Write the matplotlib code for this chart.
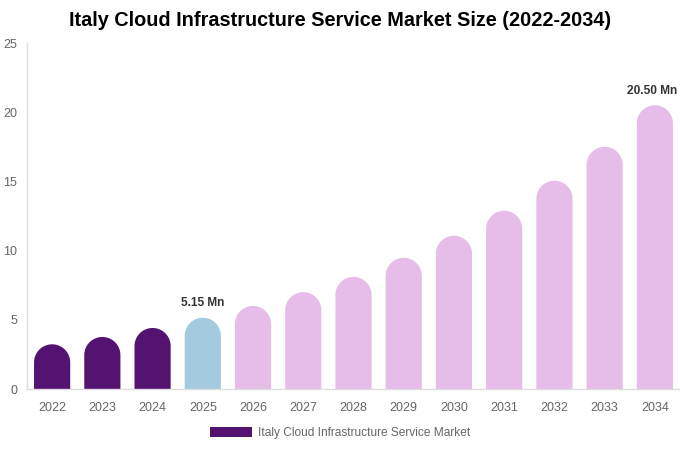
import matplotlib
matplotlib.use("Agg")
import matplotlib.pyplot as plt
import numpy as np
from matplotlib.patches import Patch, PathPatch
from matplotlib.path import Path

plt.rcParams['font.family'] = ['Liberation Sans', 'DejaVu Sans']

years = ["2022", "2023", "2024", "2025", "2026", "2027", "2028", "2029",
         "2030", "2031", "2032", "2033", "2034"]
values = [3.23, 3.76, 4.41, 5.15, 6.0, 7.0, 8.1, 9.48, 11.07, 12.88, 15.05, 17.5, 20.5]
labels = {3: "5.15 Mn", 12: "20.50 Mn"}
yticks = [0, 5, 10, 15, 20, 25]

c_hist = "#541370"
c_now = "#a3cadf"
c_fore = "#e6bce9"
colors = [c_hist] * 3 + [c_now] + [c_fore] * 9

W, H = 680, 450
fig = plt.figure(figsize=(W / 100, H / 100), dpi=100)
ax = fig.add_axes([27 / W, (H - 389) / H, 653 / W, 346 / H])
ax.set_xlim(-0.5, len(years) - 0.5)
ax.set_ylim(0, 25)

bw = 0.72
px_per_x = 653 / len(years)
px_per_y = 346 / 25
ry = (bw / 2 * px_per_x) / px_per_y
rx = bw / 2

xs = list(range(len(years)))
theta = np.linspace(0, np.pi, 60)
for x, v, c in zip(xs, values, colors):
    cy = v - ry
    arc = np.column_stack([x + rx * np.cos(theta), cy + ry * np.sin(theta)])
    verts = np.vstack([[x + rx, 0], arc, [x - rx, 0], [x + rx, 0]])
    codes = [Path.MOVETO] + [Path.LINETO] * (len(verts) - 2) + [Path.CLOSEPOLY]
    ax.add_patch(PathPatch(Path(verts, codes), facecolor=c, edgecolor='none', zorder=2))

for i, t in labels.items():
    dx = -2 if i == len(years) - 1 else 0
    ax.annotate(t, (xs[i], values[i]), xytext=(dx, 6), textcoords='offset points',
                ha='center', va='bottom', fontsize=8.6, fontweight='bold', color='#333333',
                annotation_clip=False)

ax.set_xticks(xs)
ax.set_xticklabels(years)
ax.set_yticks(yticks)
ax.tick_params(axis='both', length=0, labelsize=9, labelcolor='#666666')
ax.tick_params(axis='x', pad=9.5)
ax.tick_params(axis='y', pad=7)
for s in ['top', 'right']:
    ax.spines[s].set_visible(False)
for s in ['left', 'bottom']:
    ax.spines[s].set_color('#dddddd')
    ax.spines[s].set_linewidth(1)

fig.suptitle("Italy Cloud Infrastructure Service Market Size (2022-2034)",
             x=340 / W, y=1 - 21 / H, va='center', fontsize=14.3, fontweight='bold')

leg = fig.legend(handles=[Patch(facecolor=c_hist, label="Italy Cloud Infrastructure Service Market")],
                 loc='center', bbox_to_anchor=(340 / W, 1 - 433 / H), frameon=False,
                 fontsize=8.6, handlelength=3.5, handleheight=0.9, handletextpad=0.5)
for t in leg.get_texts():
    t.set_color('#666666')

fig.savefig("out.png", dpi=100, facecolor='white')
